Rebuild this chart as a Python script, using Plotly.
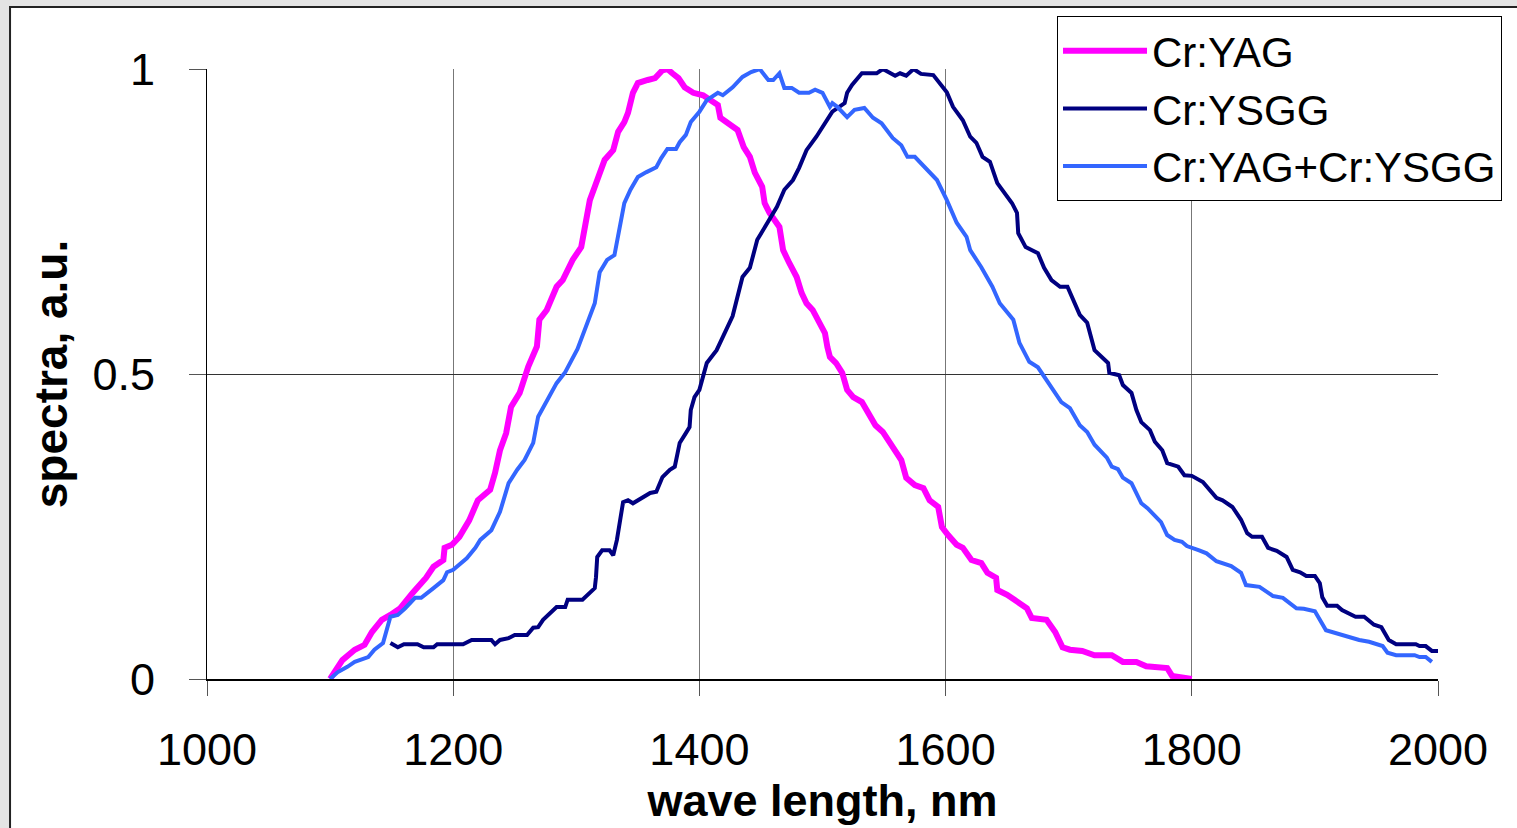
import plotly.graph_objects as go

# ---- data ----
yag_x = [1100, 1110, 1120, 1128, 1134, 1142, 1149, 1157, 1167, 1178, 1184, 1192, 1193, 1199, 1205, 1213, 1220,
         1230, 1234, 1238, 1243, 1247, 1254, 1261, 1268, 1270, 1276, 1284, 1289, 1297, 1304, 1308, 1311, 1315,
         1321, 1323, 1330, 1334, 1339, 1342, 1346, 1350, 1358, 1364, 1370, 1374, 1378, 1383, 1388, 1395, 1403,
         1409, 1415, 1417, 1423, 1431, 1436, 1441, 1445, 1451, 1453, 1457, 1465, 1468, 1473, 1479, 1483, 1487,
         1492, 1496, 1502, 1504, 1506, 1511, 1516, 1520, 1525, 1532, 1537, 1543, 1549, 1555, 1559, 1564, 1568,
         1575, 1582, 1587, 1594, 1597, 1602, 1609, 1614, 1621, 1629, 1634, 1641, 1642, 1650, 1660, 1666, 1670,
         1682, 1689, 1695, 1701, 1711, 1721, 1735, 1744, 1755, 1763, 1775, 1780, 1784, 1792, 1800]
yag_y = [0.0, 0.031, 0.048, 0.056, 0.077, 0.097, 0.105, 0.116, 0.141, 0.166, 0.184, 0.195, 0.215, 0.22, 0.233,
         0.26, 0.293, 0.31, 0.338, 0.375, 0.403, 0.446, 0.469, 0.512, 0.545, 0.589, 0.605, 0.643, 0.654, 0.687,
         0.708, 0.757, 0.785, 0.807, 0.839, 0.851, 0.867, 0.897, 0.913, 0.928, 0.961, 0.977, 0.982, 0.985, 0.998,
         1.0, 0.993, 0.985, 0.97, 0.961, 0.957, 0.949, 0.941, 0.92, 0.911, 0.9, 0.872, 0.856, 0.83, 0.807, 0.78,
         0.764, 0.741, 0.703, 0.682, 0.659, 0.633, 0.616, 0.605, 0.589, 0.567, 0.544, 0.528, 0.518, 0.502, 0.474,
         0.462, 0.454, 0.438, 0.416, 0.405, 0.387, 0.372, 0.359, 0.33, 0.318, 0.313, 0.293, 0.282, 0.249, 0.236,
         0.22, 0.215, 0.195, 0.19, 0.174, 0.166, 0.146, 0.138, 0.125, 0.116, 0.1, 0.097, 0.077, 0.052, 0.048,
         0.046, 0.039, 0.039, 0.028, 0.028, 0.021, 0.02, 0.018, 0.005, 0.003, 0.0]

ysgg_x = [1149, 1155, 1160, 1171, 1176, 1184, 1187, 1208, 1215, 1231, 1234, 1238, 1245, 1250, 1260, 1265, 1269,
          1273, 1284, 1291, 1293, 1305, 1315, 1316, 1317, 1321, 1327, 1330, 1333, 1336, 1338, 1342, 1346, 1360,
          1365, 1370, 1376, 1380, 1384, 1389, 1392, 1393, 1396, 1400, 1404, 1406, 1414, 1427, 1435, 1441, 1447,
          1453, 1463, 1469, 1476, 1481, 1487, 1495, 1503, 1508, 1518, 1520, 1524, 1532, 1544, 1549, 1559, 1563,
          1568, 1574, 1580, 1590, 1601, 1606, 1614, 1620, 1625, 1630, 1636, 1642, 1654, 1658, 1659, 1665, 1675,
          1680, 1686, 1693, 1699, 1703, 1709, 1715, 1721, 1732, 1733, 1741, 1744, 1751, 1755, 1759, 1766, 1770,
          1776, 1780, 1789, 1794, 1800, 1809, 1820, 1825, 1833, 1840, 1845, 1849, 1857, 1862, 1869, 1877, 1882,
          1888, 1893, 1900, 1904, 1906, 1910, 1918, 1922, 1933, 1940, 1948, 1954, 1960, 1966, 1982, 1985, 1990,
          1995, 2001]
ysgg_y = [0.059, 0.052, 0.057, 0.057, 0.052, 0.052, 0.057, 0.057, 0.064, 0.064, 0.057, 0.064, 0.067, 0.072,
          0.072, 0.084, 0.085, 0.097, 0.118, 0.118, 0.13, 0.13, 0.149, 0.167, 0.2, 0.211, 0.211, 0.203, 0.228,
          0.261, 0.29, 0.293, 0.288, 0.305, 0.307, 0.331, 0.343, 0.348, 0.387, 0.403, 0.413, 0.441, 0.462, 0.474,
          0.502, 0.518, 0.539, 0.595, 0.659, 0.674, 0.72, 0.741, 0.774, 0.802, 0.818, 0.838, 0.867, 0.889, 0.913,
          0.93, 0.944, 0.961, 0.974, 0.993, 0.993, 1.0, 0.989, 0.993, 0.989, 1.0, 0.992, 0.99, 0.962, 0.938,
          0.916, 0.889, 0.879, 0.856, 0.848, 0.813, 0.78, 0.764, 0.731, 0.708, 0.698, 0.674, 0.654, 0.643, 0.643,
          0.626, 0.597, 0.584, 0.539, 0.518, 0.502, 0.498, 0.482, 0.469, 0.441, 0.421, 0.408, 0.389, 0.375,
          0.354, 0.348, 0.334, 0.333, 0.323, 0.297, 0.293, 0.282, 0.261, 0.239, 0.233, 0.233, 0.215, 0.21, 0.2,
          0.179, 0.175, 0.169, 0.169, 0.157, 0.134, 0.12, 0.12, 0.113, 0.102, 0.102, 0.089, 0.085, 0.064, 0.057,
          0.057, 0.054, 0.054, 0.046, 0.046]

mix_x = [1100, 1106, 1114, 1120, 1131, 1136, 1143, 1147, 1149, 1155, 1161, 1169, 1174, 1184, 1192, 1195, 1200,
         1211, 1218, 1222, 1231, 1238, 1245, 1252, 1258, 1265, 1269, 1284, 1291, 1301, 1308, 1315, 1319, 1325,
         1331, 1339, 1344, 1350, 1357, 1365, 1369, 1374, 1381, 1384, 1389, 1393, 1400, 1406, 1415, 1419, 1427,
         1435, 1442, 1449, 1456, 1460, 1465, 1469, 1475, 1481, 1489, 1494, 1500, 1506, 1508, 1512, 1520, 1526,
         1534, 1541, 1548, 1557, 1564, 1569, 1575, 1584, 1593, 1601, 1609, 1617, 1620, 1629, 1638, 1644, 1655,
         1660, 1668, 1675, 1684, 1694, 1701, 1709, 1715, 1721, 1731, 1735, 1740, 1744, 1751, 1759, 1764, 1775,
         1780, 1786, 1792, 1796, 1806, 1812, 1820, 1832, 1840, 1844, 1855, 1866, 1874, 1885, 1891, 1900, 1909,
         1917, 1925, 1936, 1944, 1955, 1959, 1966, 1981, 1985, 1990, 1995]
mix_y = [0.0, 0.011, 0.02, 0.028, 0.036, 0.048, 0.059, 0.085, 0.102, 0.105, 0.116, 0.133, 0.133, 0.149, 0.162,
         0.175, 0.179, 0.198, 0.215, 0.228, 0.244, 0.274, 0.321, 0.343, 0.359, 0.387, 0.43, 0.485, 0.503, 0.541,
         0.577, 0.616, 0.667, 0.687, 0.695, 0.78, 0.802, 0.823, 0.831, 0.839, 0.854, 0.869, 0.869, 0.88, 0.892,
         0.913, 0.93, 0.949, 0.961, 0.957, 0.97, 0.987, 0.995, 1.0, 0.982, 0.982, 0.993, 0.969, 0.969, 0.961,
         0.961, 0.966, 0.961, 0.938, 0.944, 0.938, 0.921, 0.933, 0.936, 0.92, 0.911, 0.887, 0.875, 0.856, 0.856,
         0.838, 0.818, 0.785, 0.748, 0.725, 0.703, 0.675, 0.643, 0.616, 0.589, 0.551, 0.52, 0.511, 0.485, 0.454,
         0.444, 0.416, 0.405, 0.384, 0.363, 0.348, 0.344, 0.33, 0.321, 0.288, 0.28, 0.257, 0.236, 0.228, 0.225,
         0.218, 0.211, 0.206, 0.193, 0.185, 0.174, 0.154, 0.151, 0.136, 0.133, 0.116, 0.115, 0.111, 0.08, 0.075,
         0.07, 0.064, 0.061, 0.054, 0.043, 0.039, 0.039, 0.036, 0.036, 0.028]

x_ticks = [1000, 1200, 1400, 1600, 1800, 2000]
x_tick_labels = ["1000", "1200", "1400", "1600", "1800", "2000"]
y_ticks = [0, 0.5, 1]
y_tick_labels = ["0", "0.5", "1"]

FONT = "Liberation Sans, Arial, sans-serif"

fig = go.Figure()
fig.add_trace(go.Scatter(x=yag_x, y=yag_y, mode="lines", name="Cr:YAG",
                         line=dict(color="#FF00FF", width=6)))
fig.add_trace(go.Scatter(x=ysgg_x, y=ysgg_y, mode="lines", name="Cr:YSGG",
                         line=dict(color="#000080", width=4)))
fig.add_trace(go.Scatter(x=mix_x, y=mix_y, mode="lines", name="Cr:YAG+Cr:YSGG",
                         line=dict(color="#3366FF", width=4)))

# slide frame (light border outside, white panel with dark outline)
fig.add_shape(type="rect", xref="paper", yref="paper",
              x0=-0.160, x1=1.2, y0=-0.5, y1=1.1016,
              line=dict(color="#222222", width=2), fillcolor="white", layer="below")

fig.update_layout(
    width=1517, height=828,
    margin=dict(l=207, r=79, t=69, b=149, autoexpand=False),
    paper_bgcolor="#e4e4e4",
    plot_bgcolor="white",
    font=dict(family=FONT, color="black"),
    showlegend=True,
    legend=dict(
        x=0.6905, y=1.0868, xanchor="left", yanchor="top",
        bgcolor="white", bordercolor="black", borderwidth=1,
        font=dict(family=FONT, size=42, color="black"),
        itemwidth=84, tracegroupgap=0,
        entrywidth=470, entrywidthmode="pixels",
    ),
    xaxis=dict(
        range=[1000, 2000], tickmode="array", tickvals=x_ticks, ticktext=x_tick_labels,
        showgrid=True, gridcolor="#777777", gridwidth=1,
        showline=True, linecolor="black", linewidth=2,
        ticks="outside", ticklen=15, tickcolor="#555555", tickwidth=1,
        tickfont=dict(family=FONT, size=45, color="black"),
        ticklabelstandoff=15,
        zeroline=False,
        title=dict(text="<b>wave length, nm</b>", font=dict(family=FONT, size=45, color="black"),
                   standoff=0),
    ),
    yaxis=dict(
        range=[0, 1], tickmode="array", tickvals=y_ticks, ticktext=y_tick_labels,
        showgrid=True, gridcolor="#333333", gridwidth=1,
        showline=True, linecolor="black", linewidth=1,
        ticks="outside", ticklen=17, tickcolor="#555555", tickwidth=1,
        tickfont=dict(family=FONT, size=45, color="black"),
        ticklabelstandoff=25,
        zeroline=False,
        title=dict(text="<b>spectra, a.u.</b>", font=dict(family=FONT, size=46, color="black"),
                   standoff=10),
    ),
)

fig.write_html("out.html", config={"displayModeBar": False},
               post_script="document.body.style.margin='0';document.body.style.overflow='hidden';")
